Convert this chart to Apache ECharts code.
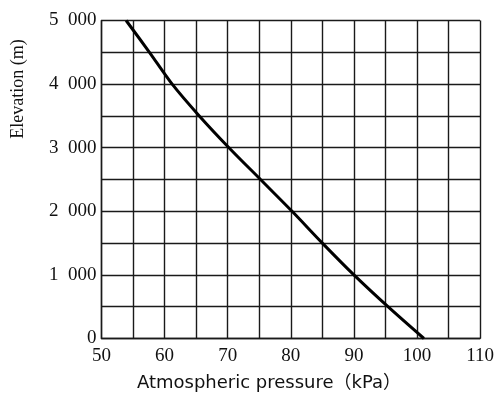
<!DOCTYPE html>
<html>
<head>
<meta charset="utf-8">
<script src="https://cdn.jsdelivr.net/npm/echarts@6/dist/echarts.min.js"></script>
<style>
  html, body { margin: 0; padding: 0; background: #fff; }
  #chart { width: 497px; height: 394px; }
</style>
</head>
<body>
<div id="chart"></div>
<script>
// pressure (kPa) at each elevation step
const pressure = [53.9, 57.6, 61.2, 65.5, 70.2, 75.2, 80.2, 85.0, 90.0, 95.4, 101.1];
const elevation = [5000, 4500, 4000, 3500, 3000, 2500, 2000, 1500, 1000, 500, 0];
const yLabels = { 0: '0', 1000: '1\u2002000', 2000: '2\u2002000', 3000: '3\u2002000', 4000: '4\u2002000', 5000: '5\u2002000' };
const xTitle = 'Atmospheric pressure（kPa）';
const yTitle = 'Elevation (m)';

const chartDom = document.getElementById('chart');
const Chart = echarts.init(chartDom);

const gridLine = { show: true, lineStyle: { color: '#1a1a1a', width: 1.4 } };
const serif = '"Liberation Serif", "DejaVu Serif", serif';

const option = {
    animation: false,
    grid: { left: 101.5, right: 14, top: 20.5, bottom: 55.5 },
    xAxis: {
        type: 'value',
        min: 50,
        max: 110,
        interval: 5,
        axisLine: { show: true, lineStyle: { color: '#1a1a1a', width: 1.4 } },
        axisTick: { show: false },
        splitLine: gridLine,
        axisLabel: {
            color: '#111',
            fontFamily: serif,
            fontSize: 19,
            margin: 8,
            formatter: (v) => (v % 10 === 0 ? String(v) : '')
        }
    },
    yAxis: {
        type: 'value',
        min: 0,
        max: 5000,
        interval: 500,
        axisLine: { show: true, lineStyle: { color: '#1a1a1a', width: 1.4 } },
        axisTick: { show: false },
        splitLine: gridLine,
        axisLabel: {
            color: '#111',
            fontFamily: serif,
            fontSize: 19,
            margin: 5,
            formatter: (v) => (yLabels[v] !== undefined ? yLabels[v] : '')
        }
    },
    graphic: [
        {
            type: 'text',
            x: 269,
            y: 383,
            style: {
                text: xTitle,
                fill: '#111',
                font: '18px "DejaVu Sans", "Noto Sans CJK JP", sans-serif',
                textAlign: 'center',
                textVerticalAlign: 'middle'
            }
        },
        {
            type: 'text',
            x: 18,
            y: 89,
            rotation: Math.PI / 2,
            style: {
                text: yTitle,
                fill: '#111',
                font: '18px ' + serif,
                textAlign: 'center',
                textVerticalAlign: 'middle'
            }
        }
    ],
    series: [
        {
            type: 'line',
            smooth: 0.3,
            symbol: 'none',
            lineStyle: { color: '#000', width: 3 },
            data: pressure.map((p, i) => [p, elevation[i]])
        }
    ]
};

option && Chart.setOption(option);
</script>
</body>
</html>
